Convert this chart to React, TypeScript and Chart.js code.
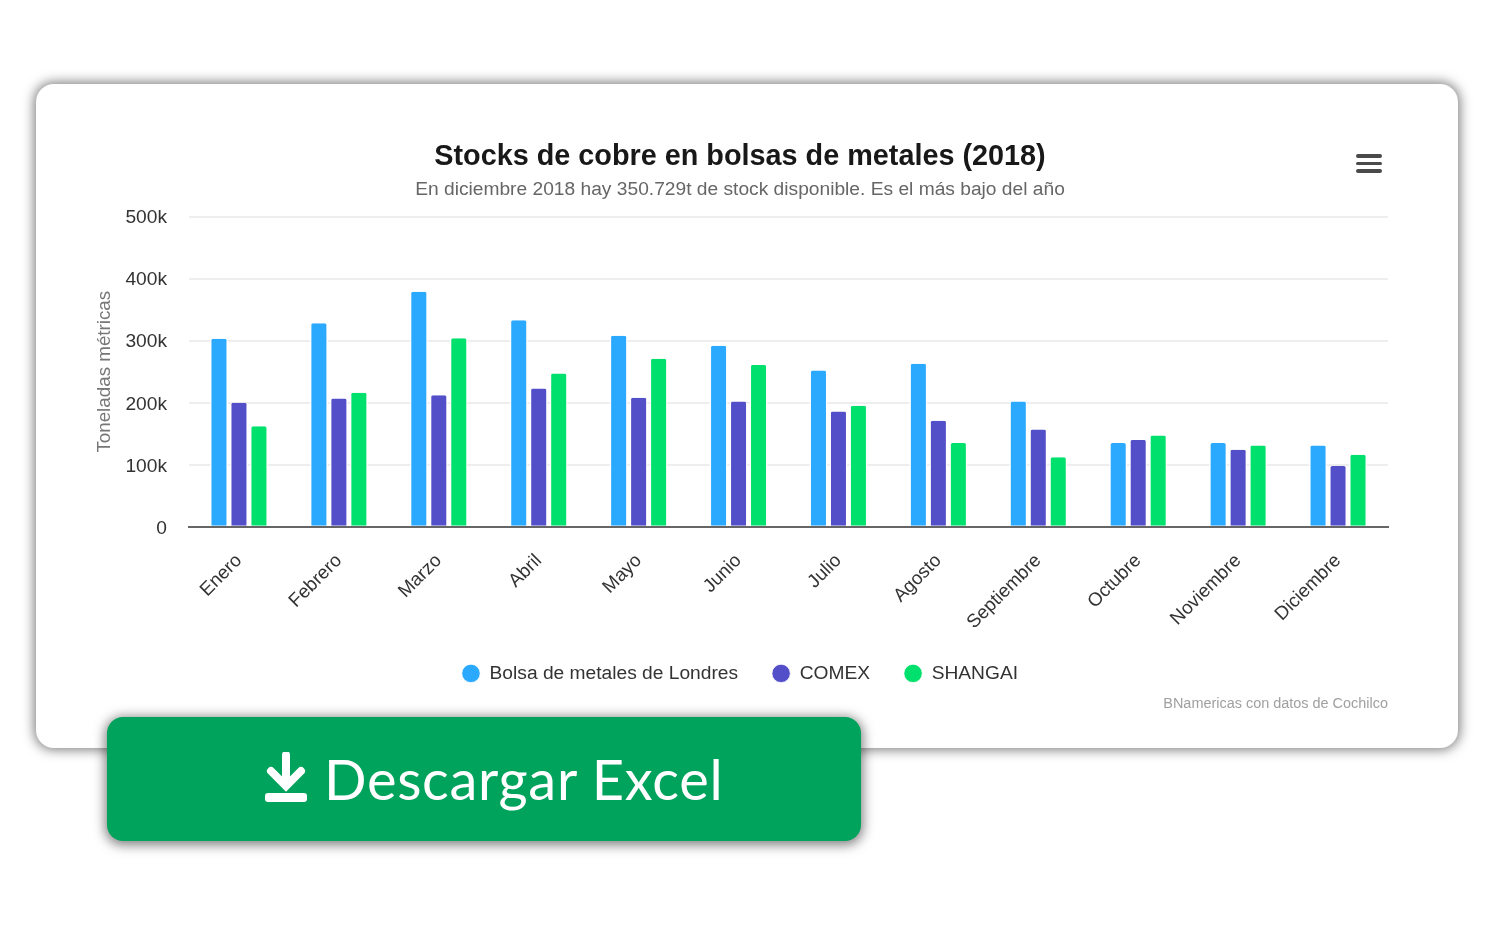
import React, { useEffect, useRef } from "react";
import { Chart, registerables } from "chart.js";

Chart.register(...registerables);

const months = ["Enero", "Febrero", "Marzo", "Abril", "Mayo", "Junio", "Julio", "Agosto", "Septiembre", "Octubre", "Noviembre", "Diciembre"];
const londres = [303000, 328000, 379000, 333000, 308000, 292000, 252000, 263000, 202000, 135000, 135000, 131000];
const comex = [200000, 207000, 212000, 223000, 208000, 202000, 186000, 171000, 157000, 140000, 124000, 98000];
const shangai = [162000, 216000, 304000, 247000, 271000, 261000, 195000, 135000, 112000, 147000, 131000, 116000];
const chartTitle = "Stocks de cobre en bolsas de metales (2018)";
const chartSubtitle = "En diciembre 2018 hay 350.729t de stock disponible. Es el más bajo del año";
const axisTitle = "Toneladas métricas";
const creditText = "BNamericas con datos de Cochilco";
const buttonText = "Descargar Excel";

const FONT = "'Liberation Sans', Arial, sans-serif";

function barSet(label: string, data: number[], color: string) {
  return {
    label,
    data,
    backgroundColor: color,
    borderColor: "#ffffff",
    borderWidth: { left: 1.5, right: 1.5, top: 0, bottom: 0 },
    borderSkipped: "bottom" as const,
    borderRadius: { topLeft: 3, topRight: 3, bottomLeft: 0, bottomRight: 0 },
    categoryPercentage: 0.6,
    barPercentage: 0.9,
  };
}

export default function App() {
  const ref = useRef<HTMLCanvasElement | null>(null);
  useEffect(() => {
    if (!ref.current) return;
    const chart = new Chart(ref.current, {
      type: "bar",
      data: {
        labels: months,
        datasets: [
          barSet("Bolsa de metales de Londres", londres, "#2AA9FF"),
          barSet("COMEX", comex, "#534FC8"),
          barSet("SHANGAI", shangai, "#00E06C"),
        ],
      },
      options: {
        responsive: false,
        animation: false,
        layout: { padding: { left: 92, right: 106, top: 140, bottom: 238 } },
        plugins: {
          tooltip: { enabled: false },
          title: {
            display: true,
            text: chartTitle,
            color: "#181818",
            font: { family: FONT, size: 28.8, weight: "bold" },
            padding: { top: 0, bottom: 4 },
          },
          subtitle: {
            display: true,
            text: chartSubtitle,
            color: "#666666",
            font: { family: FONT, size: 19.2, weight: "normal" },
            padding: { top: 0, bottom: 15 },
          },
          legend: {
            position: "bottom",
            labels: {
              usePointStyle: true,
              pointStyle: "circle",
              boxWidth: 18,
              boxHeight: 13,
              color: "#333333",
              padding: 34,
              font: { family: FONT, size: 19.2 },
            },
          },
        },
        scales: {
          x: {
            grid: { display: false },
            border: { display: true, color: "#666666", width: 2 },
            afterFit: (s: any) => { s.height = 103; },
            ticks: {
              autoSkip: false,
              minRotation: 45,
              maxRotation: 45,
              color: "#333333",
              padding: 15,
              font: { family: FONT, size: 18.8 },
            },
          },
          y: {
            min: 0,
            max: 500000,
            afterFit: (s: any) => { s.width = 97; },
            grid: { color: "#eeeeee", lineWidth: 2, drawTicks: false },
            border: { display: false },
            title: {
              display: true,
              text: axisTitle,
              color: "#777777",
              font: { family: FONT, size: 18.8 },
              padding: { top: 2, bottom: 0 },
            },
            ticks: {
              stepSize: 100000,
              color: "#333333",
              padding: 22,
              labelOffset: 1.5,
              font: { family: FONT, size: 19.2 },
              callback: (v: any) => (Number(v) === 0 ? "0" : `${Number(v) / 1000}k`),
            },
          },
        },
      },
    });
    return () => chart.destroy();
  }, []);

  return (
    <div style={{ position: "absolute", left: 0, top: 0, width: 1494, height: 931, background: "#fff", overflow: "hidden" }}>
      <div style={{ position: "absolute", left: 36, top: 84, width: 1422, height: 664, background: "#fff", borderRadius: 18, boxShadow: "0 0 12px 2px rgba(0,0,0,0.5)" }} />
      <canvas ref={ref} width={1494} height={931} style={{ position: "absolute", left: 0, top: 0, display: "block" }} />
      {[154, 161.5, 169].map((t) => (
        <div key={t} style={{ position: "absolute", left: 1356, top: t, width: 26, height: 3.6, borderRadius: 2, background: "#4a4a4a" }} />
      ))}
      <div style={{ position: "absolute", right: 106, top: 695, fontFamily: FONT, fontSize: 14.45, color: "#a0a0a0", whiteSpace: "nowrap" }}>{creditText}</div>
      <div style={{ position: "absolute", left: 107, top: 717, width: 754, height: 124, background: "#00A35C", borderRadius: 16, boxShadow: "0 2px 12px 2px rgba(0,0,0,0.5)" }}>
        <svg width="44" height="52" viewBox="0 0 44 52" style={{ position: "absolute", left: 157, top: 35 }}>
          <path d="M22 3 V32 M7 19 L22 34 L37 19" stroke="#fff" strokeWidth="8" strokeLinecap="round" strokeLinejoin="miter" fill="none" />
          <rect x="1" y="41" width="42" height="9" rx="3" fill="#fff" />
        </svg>
        <div style={{ position: "absolute", left: 217, top: 27, fontFamily: "Lato, sans-serif", fontWeight: 400, fontSize: 56, letterSpacing: 0.7, lineHeight: "70px", color: "#fff", whiteSpace: "nowrap" }}>{buttonText}</div>
      </div>
    </div>
  );
}
